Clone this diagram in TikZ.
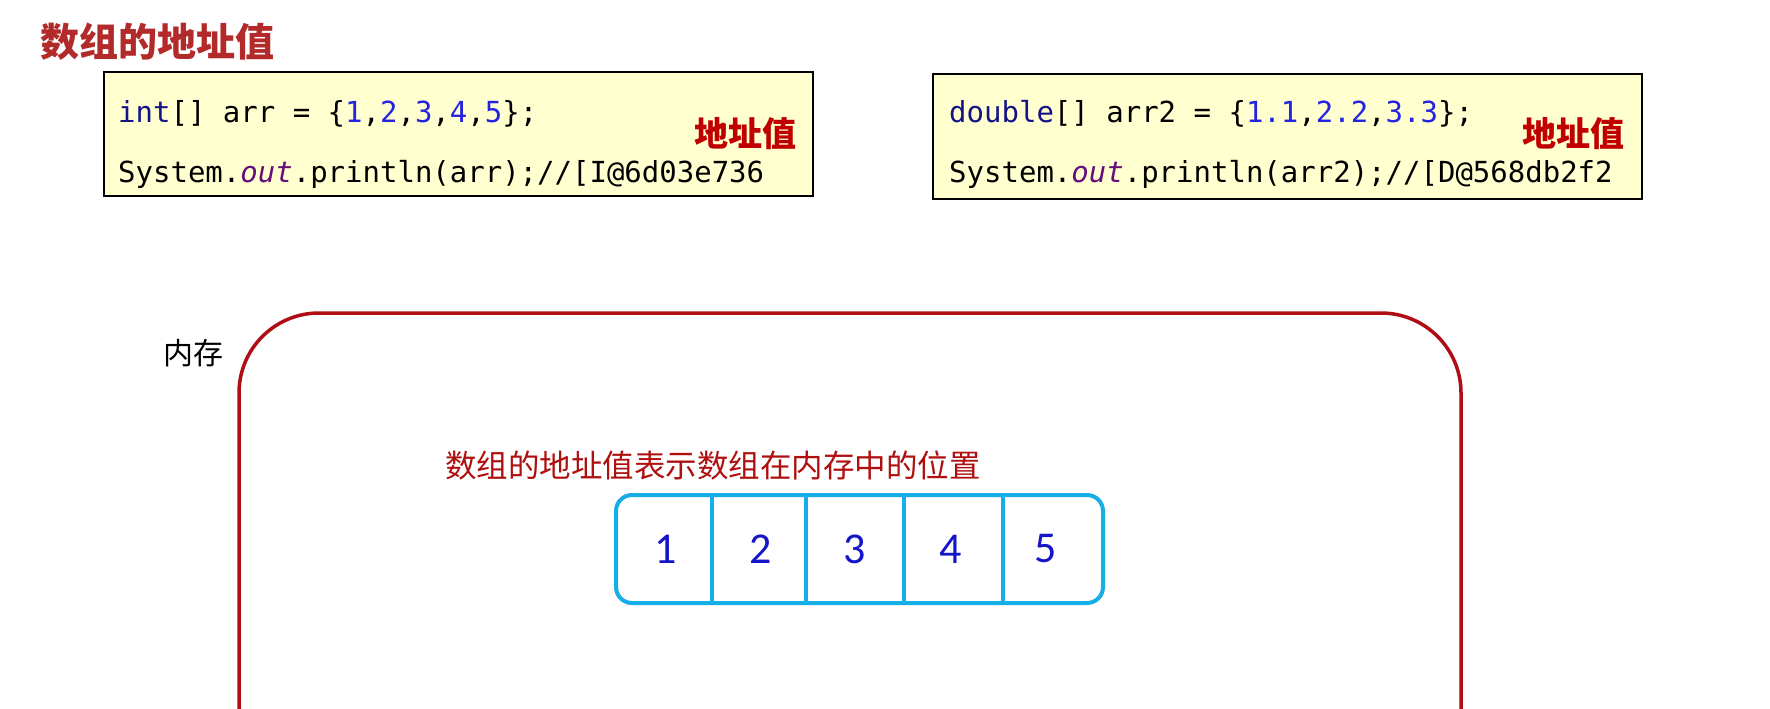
\documentclass[tikz,border=0pt]{standalone}
\usepackage{fontspec}
\newfontfamily\cjk{Noto Sans CJK SC}
\newfontfamily\codefont{DejaVu Sans Mono}
\newfontfamily\numfont{Carlito}
\definecolor{titlered}{RGB}{178,42,42}
\definecolor{addrred}{RGB}{192,0,0}
\definecolor{memred}{RGB}{175,15,20}
\definecolor{notered}{RGB}{175,15,15}
\definecolor{codebg}{RGB}{255,255,208}
\definecolor{kwnavy}{RGB}{20,20,135}
\definecolor{numblue}{RGB}{35,35,225}
\definecolor{outpurple}{RGB}{102,14,122}
\definecolor{arrcyan}{RGB}{22,174,230}
\definecolor{digitblue}{RGB}{20,20,200}
\newcommand{\kw}[1]{\textcolor{kwnavy}{#1}}
\newcommand{\nm}[1]{\textcolor{numblue}{#1}}
\newcommand{\ot}[1]{\textcolor{outpurple}{\itshape #1}}
\tikzset{
  codebox/.style={draw=black, line width=1.8pt, fill=codebg},
  codeline/.style={anchor=west, inner sep=0pt, font=\codefont\fontsize{29}{29}\selectfont},
  addrlabel/.style={anchor=center, inner sep=0pt, text=addrred, font=\cjk\bfseries\fontsize{34}{34}\selectfont},
  membox/.style={draw=memred, line width=3.5pt, rounded corners=80pt},
  arrbox/.style={draw=arrcyan, line width=4pt},
  digit/.style={inner sep=0pt, text=digitblue, font=\numfont\fontsize{44}{44}\selectfont}
}
\begin{document}
\begin{tikzpicture}[x=1pt,y=-1pt]
\useasboundingbox (0,0) rectangle (1770,709);
\fill[white] (0,0) rectangle (1770,709);
% title
\node[anchor=west, inner sep=0pt, text=titlered, font=\cjk\bfseries\fontsize{39}{39}\selectfont] (title) at (40,42) {数组的地址值};
% code box 1
\draw[codebox] (104,72) rectangle (813,196);
\node[codeline] (c1a) at (118,114) {\kw{int}[] arr = \{\nm{1},\nm{2},\nm{3},\nm{4},\nm{5}\};};
\node[codeline] (c1b) at (118,174) {System.\ot{out}.println(arr);//[I@6d03e736};
\node[addrlabel] (a1) at (745,134) {地址值};
% code box 2
\draw[codebox] (933,74) rectangle (1642,199);
\node[codeline] (c2a) at (949,114) {\kw{double}[] arr2 = \{\nm{1.1},\nm{2.2},\nm{3.3}\};};
\node[codeline] (c2b) at (949,174) {System.\ot{out}.println(arr2);//[D@568db2f2};
\node[addrlabel] (a2) at (1573,134) {地址值};
% memory
\node[anchor=west, inner sep=0pt, font=\cjk\fontsize{30}{30}\selectfont] (memlabel) at (163,353) {内存};
\begin{scope}
\clip (0,0) rectangle (1770,709);
\draw[membox] (239,313) rectangle (1461,820);
\end{scope}
\node[anchor=west, inner sep=0pt, text=notered, font=\cjk\fontsize{31.5}{31.5}\selectfont] (note) at (445,465) {数组的地址值表示数组在内存中的位置};
% array
\draw[arrbox, rounded corners=16pt] (616,495) rectangle (1103,603);
\coordinate (d1t) at (712,495); \coordinate (d1b) at (712,603);
\coordinate (d2t) at (806,495); \coordinate (d2b) at (806,603);
\coordinate (d3t) at (904,495); \coordinate (d3b) at (904,603);
\coordinate (d4t) at (1003,495); \coordinate (d4b) at (1003,603);
\draw[arrbox] (d1t) -- (d1b);
\draw[arrbox] (d2t) -- (d2b);
\draw[arrbox] (d3t) -- (d3b);
\draw[arrbox] (d4t) -- (d4b);
\node[digit] (v1) at (666,549) {1};
\node[digit] (v2) at (761,549) {2};
\node[digit] (v3) at (855,549) {3};
\node[digit] (v4) at (951,549) {4};
\node[digit] (v5) at (1046,549) {5};
\end{tikzpicture}
\end{document}
